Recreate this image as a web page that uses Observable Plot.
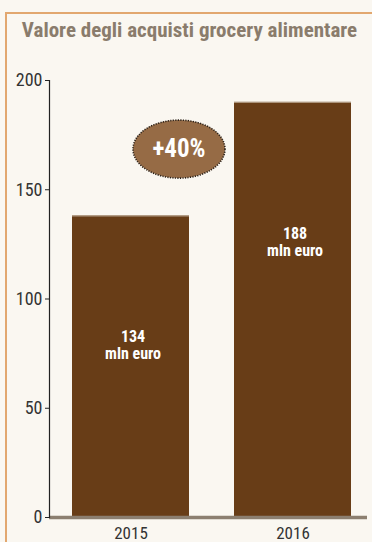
<!DOCTYPE html>
<html>
<head>
<meta charset="utf-8">
<script src="https://cdn.jsdelivr.net/npm/d3@7"></script>
<script src="https://cdn.jsdelivr.net/npm/@observablehq/plot@0.6"></script>
<style>
  html, body { margin: 0; padding: 0; }
  body { width: 372px; height: 542px; overflow: hidden; background: #faf7f1; position: relative;
         font-family: Roboto, sans-serif; font-stretch: 75%; }
  #frame { position: absolute; left: 5px; top: 12px; width: 420px; height: 600px;
           border-left: 2px solid #e2a76f; border-top: 2px solid #e2a76f; }
  #title { position: relative; height: 56px; box-sizing: border-box; padding: 20px 0 0 7px;
           text-align: center; font-size: 21px; line-height: 21px; font-weight: bold; color: #8a7c6c;
           white-space: nowrap; }
  #chart { position: relative; }
  #chart svg, #chart svg text { font-stretch: 75%; }
</style>
</head>
<body>
<div id="frame"></div>
<div id="title">Valore degli acquisti grocery alimentare</div>
<div id="chart"></div>
<script>
const FONT = 'Roboto, sans-serif';

// Data
const years = ["2015", "2016"];
const values = [138, 190];                       // bar heights
const valueLabels = ["134\nmln euro", "188\nmln euro"];
const labelPos = [79, 126];                      // label centers, in data units
const yTicks = [0, 50, 100, 150, 200];
const growthLabel = "+40%";
const growthAt = "2015";
const growthY = 168.6;

const data = years.map((year, i) => ({year, value: values[i], label: valueLabels[i], labelY: labelPos[i]}));
const growth = [{x: growthAt, y: growthY, text: growthLabel}];

// ellipse symbol for the badge
const ellipse = {
  draw(ctx, size) {
    const rx = Math.sqrt(size / Math.PI), ry = rx * 29 / 46, k = 0.5523;
    ctx.moveTo(rx, 0);
    ctx.bezierCurveTo(rx, ry * k, rx * k, ry, 0, ry);
    ctx.bezierCurveTo(-rx * k, ry, -rx, ry * k, -rx, 0);
    ctx.bezierCurveTo(-rx, -ry * k, -rx * k, -ry, 0, -ry);
    ctx.bezierCurveTo(rx * k, -ry, rx, -ry * k, rx, 0);
    ctx.closePath();
  }
};

const chart = Plot.plot({
  width: 372,
  height: 486,
  marginLeft: 49,
  marginRight: 5,
  marginTop: 24,
  marginBottom: 25,
  style: {background: "transparent", fontFamily: FONT, color: "#333"},
  x: {domain: years, paddingInner: 0.276, paddingOuter: 0.1135, align: 0.595, label: null},
  y: {domain: [0, 200], label: null},
  marks: [
    Plot.barY(data, {x: "year", y: "value", fill: "#683d17"}),
    Plot.tickY(data, {x: "year", y: "value", stroke: "#b8a48e", strokeWidth: 1}),
    Plot.ruleY([0], {stroke: "#8c7f70", strokeWidth: 3.5}),
    Plot.axisY({ticks: yTicks, tickSize: 4, tickPadding: 3, fontSize: 18, label: null, stroke: "#222", fill: "#333"}),
    Plot.frame({anchor: "left", stroke: "#222", strokeWidth: 1.2}),
    Plot.axisX({tickSize: 0, tickPadding: 9, fontSize: 17, label: null, fill: "#333"}),
    Plot.text(data, {x: "year", y: "labelY", text: "label", fill: "white", fontWeight: "bold",
                     fontSize: 16, lineHeight: 1.08, dx: 2}),
    Plot.dot(growth, {x: "x", y: "y", dx: 48, r: 46, symbol: ellipse, fill: "#966b45",
                      stroke: "#2b2118", strokeWidth: 1.6, strokeDasharray: "1.2,1.3"}),
    Plot.text(growth, {x: "x", y: "y", dx: 48, text: "text", fill: "white", fontWeight: "bold", fontSize: 25})
  ]
});
document.getElementById("chart").appendChild(chart);
</script>
</body>
</html>
